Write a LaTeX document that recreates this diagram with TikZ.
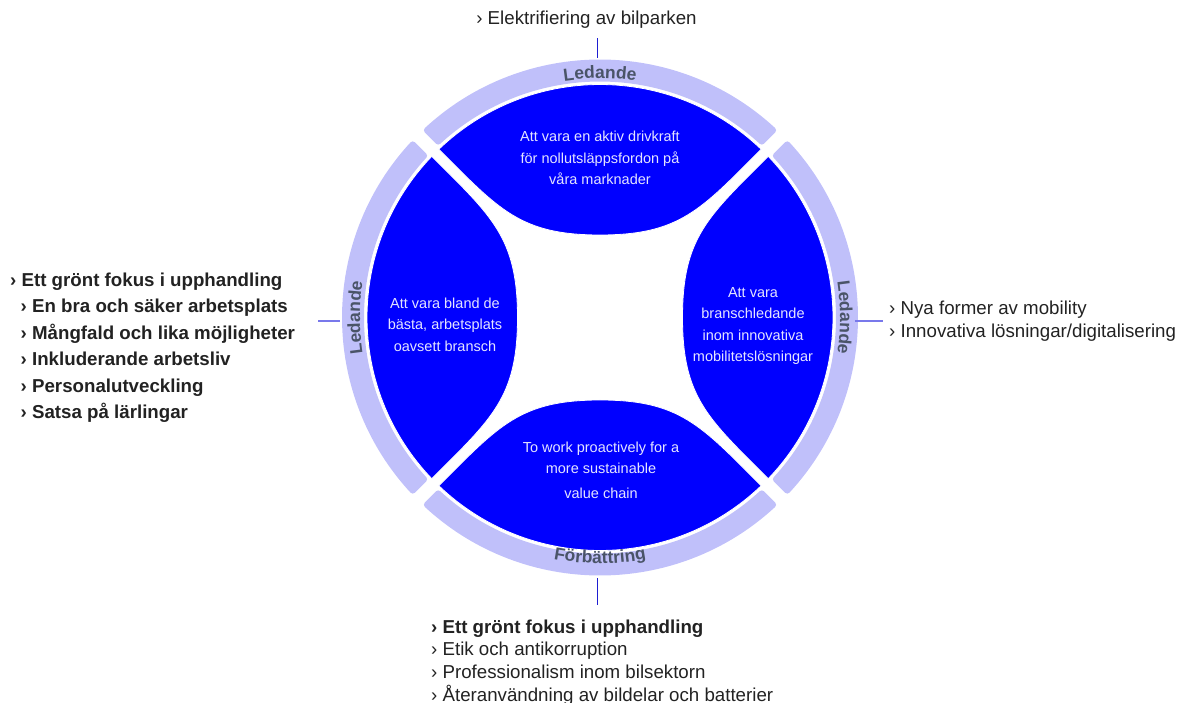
\documentclass[tikz,border=0pt]{standalone}
\usepackage{fontspec}
\setmainfont{Liberation Sans}
\usetikzlibrary{decorations.text}
\definecolor{ringc}{RGB}{192,192,250}
\definecolor{bluec}{RGB}{0,0,255}
\definecolor{intext}{RGB}{228,228,255}
\definecolor{labc}{RGB}{74,84,104}
\definecolor{listc}{RGB}{34,34,34}
\definecolor{linec}{RGB}{30,30,210}
\definecolor{sidelinec}{RGB}{120,120,235}
\newcommand{\lablfont}{\fontsize{17.5}{20}\selectfont\bfseries}
\begin{document}
\begin{tikzpicture}[x=1pt,y=1pt,
 ringseg/.style={fill=ringc, draw=ringc, line width=6pt, line join=round},
 petal/.style={fill=bluec, draw=white, line width=0.8pt},
 petaltext/.style={text=intext, align=center, font=\fontsize{14.5}{21.5}\selectfont, inner sep=0pt},
 listtext/.style={text=listc, align=left, inner sep=0pt, font=\fontsize{18.7}{23}\selectfont},
 conn/.style={draw=linec, line width=1.2pt},
 sideconn/.style={draw=sidelinec, line width=1.2pt},
 ringlabel/.style={decorate, decoration={text along path, text align=center, text color=labc}}
]
\useasboundingbox (0,0) rectangle (1180,702);
\begin{scope}[shift={(600,384.5)}]
 \foreach \r in {0,90,180,270}{
  \filldraw[ringseg, rotate=\r] (47.25:255) arc[start angle=47.25, end angle=132.75, radius=255] -- (132.6:239) arc[start angle=132.6, end angle=47.4, radius=239] -- cycle;
  \draw[petal, rotate=\r] (46.23:233) arc[start angle=46.23, end angle=133.77, radius=233] .. controls (-101,108) and (-80,82.5) .. (0,82.5) .. controls (80,82.5) and (101,108) .. (46.23:233) -- cycle;
 }
 \path[ringlabel, decoration={text={|\lablfont|Ledande}}] (112:239) arc[start angle=112, end angle=68, radius=239];
 \path[ringlabel, decoration={text={|\lablfont|Ledande}}] (22:240) arc[start angle=22, end angle=-22, radius=240];
 \path[ringlabel, decoration={text={|\lablfont|Ledande}}] (202:240) arc[start angle=202, end angle=158, radius=240];
 \path[ringlabel, decoration={text={|\lablfont|Förbättring}}] (245:246) arc[start angle=245, end angle=295, radius=246];
\end{scope}

\node[petaltext] (ptop) at (600,544) {Att vara en aktiv drivkraft\\för nollutsläppsfordon på\\våra marknader};
\node[petaltext] (pleft) at (445,377.5) {Att vara bland de\\bästa, arbetsplats\\oavsett bransch};
\node[petaltext] (pright) at (753,376) {Att vara\\branschledande\\inom innovativa\\mobilitetslösningar};
\node[petaltext] (pbottom) at (601,232) {To work proactively for a\\more sustainable\\[3pt]value chain};

\node[listtext, anchor=base] (toplist) at (586.5,677) {› Elektrifiering av bilparken};
\node[listtext, anchor=north west, font=\fontsize{18.7}{26.5}\selectfont\bfseries] (leftlist) at (10,429.5)
 {› Ett grönt fokus i upphandling\\
  \hspace*{10.5pt}› En bra och säker arbetsplats\\
  \hspace*{10.5pt}› Mångfald och lika möjligheter\\
  \hspace*{10.5pt}› Inkluderande arbetsliv\\
  \hspace*{10.5pt}› Personalutveckling\\
  \hspace*{10.5pt}› Satsa på lärlingar};
\node[listtext, anchor=north west] (rightlist) at (889,401.7)
 {› Nya former av mobility\\› Innovativa lösningar/digitalisering};
\node[listtext, anchor=north west, font=\fontsize{18.7}{22.7}\selectfont] (bottomlist) at (431,82.7)
 {\textbf{› Ett grönt fokus i upphandling}\\› Etik och antikorruption\\› Professionalism inom bilsektorn\\› Återanvändning av bildelar och batterier};

\coordinate (ringT) at (597.3,644);
\coordinate (topend) at (597.3,664);
\coordinate (ringL) at (340,381);
\coordinate (leftend) at (318,381);
\coordinate (ringR) at (855,381);
\coordinate (rightend) at (883,381);
\coordinate (ringB) at (597.3,124);
\coordinate (bottomend) at (597.3,97);
\draw[conn] (ringT) -- (topend);
\draw[sideconn] (ringL) -- (leftend);
\draw[sideconn] (ringR) -- (rightend);
\draw[conn] (ringB) -- (bottomend);
\end{tikzpicture}
\end{document}
